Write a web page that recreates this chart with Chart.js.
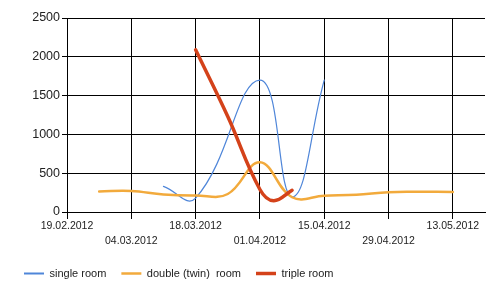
<!DOCTYPE html>
<html>
<head>
<meta charset="utf-8">
<script src="https://cdn.jsdelivr.net/npm/chart.js@4"></script>
<style>
  html, body { margin: 0; padding: 0; background: #fff; }
  #wrap { width: 500px; height: 296px; }
</style>
</head>
<body>
<div id="wrap"><canvas id="chart"></canvas></div>
<script>
// x values are days since 19.02.2012
const tickLabels = ["19.02.2012", "04.03.2012", "18.03.2012", "01.04.2012", "15.04.2012", "29.04.2012", "13.05.2012"];
const seriesNames = ["single room", "double (twin)  room", "triple room"];

const singleDays = [21, 28, 42, 49, 56];
const singleValues = [330, 180, 1700, 195, 1700];

const doubleDays = [7, 14, 21, 28, 35, 42, 49, 56, 63, 70, 77, 84];
const doubleValues = [265, 270, 225, 212, 232, 640, 190, 210, 222, 256, 260, 258];

const tripleDays = [28, 35, 42, 45, 49];
const tripleValues = [2090, 1230, 290, 145, 280];

const toPoints = (days, values) => days.map((d, i) => ({ x: d, y: values[i] }));

const fontFamily = "'Liberation Sans', Arial, sans-serif";

new Chart(document.getElementById("chart"), {
  type: "line",
  data: {
    datasets: [
      {
        label: seriesNames[0],
        data: toPoints(singleDays, singleValues),
        borderColor: "#4f86d9",
        borderWidth: 1.2,
        tension: 0.45,
        order: 2,
      },
      {
        label: seriesNames[1],
        data: toPoints(doubleDays, doubleValues),
        borderColor: "#f2aa3c",
        borderWidth: 2.5,
        order: 1,
      },
      {
        label: seriesNames[2],
        data: toPoints(tripleDays, tripleValues),
        borderColor: "#d4421a",
        borderWidth: 3.5,
        order: 0,
      },
    ],
  },
  options: {
    responsive: true,
    maintainAspectRatio: false,
    animation: false,
    layout: {
      padding: { top: 18, right: 15, bottom: 7, left: 9 },
    },
    elements: {
      point: { radius: 0, hoverRadius: 0 },
      line: { tension: 0.4, fill: false, borderCapStyle: "round" },
    },
    plugins: {
      tooltip: { enabled: false },
      legend: {
        position: "bottom",
        align: "start",
        labels: {
          usePointStyle: true,
          pointStyle: "line",
          pointStyleWidth: 20,
          padding: 15,
          color: "#222",
          font: { family: fontFamily, size: 11 },
          sort: (a, b) => a.datasetIndex - b.datasetIndex,
          generateLabels: (chart) =>
            chart.data.datasets.map((ds, i) => ({
              text: ds.label,
              datasetIndex: i,
              strokeStyle: ds.borderColor,
              fillStyle: ds.borderColor,
              lineWidth: Math.max(2, ds.borderWidth),
              pointStyle: "line",
              fontColor: "#222",
            })),
        },
      },
    },
    scales: {
      x: {
        type: "linear",
        min: 0,
        max: 91,
        afterFit: (scale) => { scale.height = 41; },
        ticks: {
          stepSize: 14,
          includeBounds: false,
          autoSkip: false,
          maxRotation: 0,
          padding: 0,
          color: "#222",
          font: { family: fontFamily, size: 10.5, lineHeight: "15px" },
          callback: (value, index) => {
            const label = tickLabels[Math.round(value / 14)] || "";
            return index % 2 ? ["", label] : label;
          },
        },
        grid: { color: "#000", tickLength: 7, lineWidth: 1 },
        border: { color: "#000", width: 1 },
      },
      y: {
        min: 0,
        max: 2500,
        afterFit: (scale) => { scale.width = 58; },
        ticks: {
          stepSize: 500,
          padding: 2,
          color: "#222",
          font: { family: fontFamily, size: 12.5 },
          callback: (value) => String(value),
        },
        grid: { color: "#000", tickLength: 5, lineWidth: 1 },
        border: { color: "#000", width: 1 },
      },
    },
  },
});
</script>
</body>
</html>
